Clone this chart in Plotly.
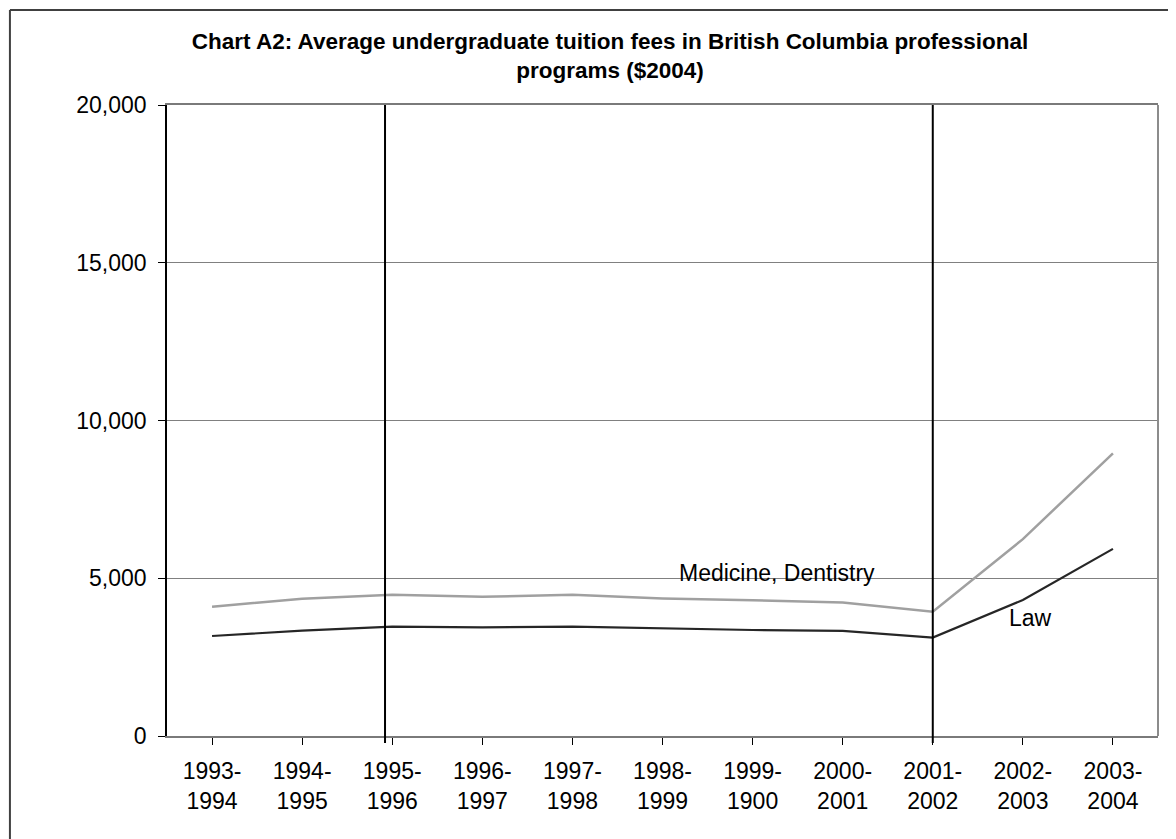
import plotly.graph_objects as go

years = ["1993-1994", "1994-1995", "1995-1996", "1996-1997", "1997-1998", "1998-1999",
         "1999-1900", "2000-2001", "2001-2002", "2002-2003", "2003-2004"]
medicine_dentistry = [4100, 4350, 4480, 4410, 4480, 4360, 4300, 4230, 3940, 6240, 8960]
law = [3170, 3340, 3465, 3445, 3465, 3410, 3360, 3330, 3120, 4310, 5930]
y_ticks = [0, 5000, 10000, 15000, 20000]
y_tick_text = ["0", "5,000", "10,000", "15,000", "20,000"]
marker_years = ["1995-1996", "2001-2002"]
marker_offsets = [-0.08, 0.0]

FONT = "Arial, Liberation Sans, sans-serif"
x_idx = list(range(len(years)))
tick_text = [y.replace("-", "-<br>", 1) for y in years]

fig = go.Figure()
fig.add_trace(go.Scatter(x=x_idx, y=medicine_dentistry, mode="lines",
                         line=dict(color="#a0a0a0", width=2.5), name="Medicine, Dentistry"))
fig.add_trace(go.Scatter(x=x_idx, y=law, mode="lines",
                         line=dict(color="#262626", width=2.2), name="Law"))

shapes = []
for yr, off in zip(marker_years, marker_offsets):
    xv = years.index(yr) + off
    shapes.append(dict(type="line", xref="x", yref="paper", x0=xv, x1=xv, y0=-0.011, y1=1,
                       line=dict(color="black", width=2), layer="above"))
# right border of plot area
shapes.append(dict(type="line", xref="paper", yref="paper", x0=1, x1=1, y0=0, y1=1,
                   line=dict(color="#8c8c8c", width=2)))
# outer chart border (left and top edges visible)
shapes.append(dict(type="line", xref="paper", yref="paper", x0=-0.1585, x1=1.2, y0=1.1505, y1=1.1505,
                   line=dict(color="#404040", width=2)))
shapes.append(dict(type="line", xref="paper", yref="paper", x0=-0.1585, x1=-0.1585, y0=-0.3, y1=1.1505,
                   line=dict(color="#404040", width=2)))

annotations = [
    dict(x=years.index("1999-1900") + 0.27, y=medicine_dentistry[6] + 870, xref="x", yref="y",
         text="Medicine, Dentistry", showarrow=False, font=dict(family=FONT, size=23, color="black")),
    dict(x=years.index("2002-2003") + 0.09, y=law[9] - 570, xref="x", yref="y",
         text="Law", showarrow=False, font=dict(family=FONT, size=23, color="black")),
]

fig.update_layout(
    width=1168, height=831,
    margin=dict(l=159, r=18, t=97, b=103),
    paper_bgcolor="white", plot_bgcolor="white",
    showlegend=False,
    font=dict(family=FONT, size=23, color="black"),
    title=dict(text="<b>Chart A2: Average undergraduate tuition fees in British Columbia professional<br>programs ($2004)</b>",
               x=0.5154, xanchor="center", xref="container",
               y=0.9507, yanchor="top", yref="container",
               font=dict(family=FONT, size=22.5, color="black")),
    xaxis=dict(
        tickmode="array", tickvals=x_idx, ticktext=tick_text,
        range=[-0.5, len(years) - 0.5],
        showgrid=False, zeroline=False,
        showline=True, linecolor="#7a7a7a", linewidth=2, mirror=True,
        ticks="outside", tickson="boundaries", ticklen=7, tickcolor="black", tickwidth=1,
        tickfont=dict(family=FONT, size=23, color="black"),
        ticklabelstandoff=6,
    ),
    yaxis=dict(
        range=[0, 20000], tickmode="array", tickvals=y_ticks, ticktext=y_tick_text,
        showgrid=True, gridcolor="#808080", gridwidth=1, zeroline=False,
        showline=True, linecolor="black", linewidth=1.5,
        ticks="outside", ticklen=7, tickcolor="black", tickwidth=1,
        tickfont=dict(family=FONT, size=23, color="black"),
        ticklabelstandoff=7,
    ),
    shapes=shapes,
    annotations=annotations,
)

fig.write_html("out.html")
